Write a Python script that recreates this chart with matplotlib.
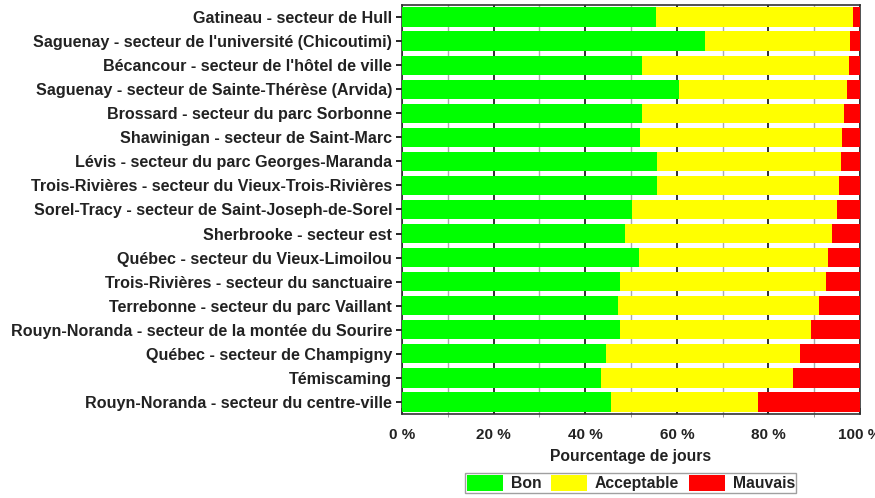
import numpy as np
import matplotlib.pyplot as plt
from matplotlib.ticker import MultipleLocator, FuncFormatter

plt.rcParams['font.family'] = ['Liberation Sans', 'DejaVu Sans']

# Stations (du haut vers le bas)
stations = [
    "Gatineau - secteur de Hull",
    "Saguenay - secteur de l'université (Chicoutimi)",
    "Bécancour - secteur de l'hôtel de ville",
    "Saguenay - secteur de Sainte-Thérèse (Arvida)",
    "Brossard - secteur du parc Sorbonne",
    "Shawinigan - secteur de Saint-Marc",
    "Lévis - secteur du parc Georges-Maranda",
    "Trois-Rivières - secteur du Vieux-Trois-Rivières",
    "Sorel-Tracy - secteur de Saint-Joseph-de-Sorel",
    "Sherbrooke - secteur est",
    "Québec - secteur du Vieux-Limoilou",
    "Trois-Rivières - secteur du sanctuaire",
    "Terrebonne - secteur du parc Vaillant",
    "Rouyn-Noranda - secteur de la montée du Sourire",
    "Québec - secteur de Champigny",
    "Témiscaming",
    "Rouyn-Noranda - secteur du centre-ville",
]

# Pourcentage de jours (%)
bon = [55.5, 66.2, 52.3, 60.5, 52.3, 52.0, 55.7, 55.7, 50.2,
       48.7, 51.8, 47.5, 47.2, 47.5, 44.5, 43.4, 45.6]
acceptable = [43.0, 31.7, 45.2, 36.7, 44.3, 44.0, 40.1, 39.7, 44.7,
              45.2, 41.1, 45.0, 43.8, 41.7, 42.5, 42.0, 32.2]
mauvais = [1.5, 2.1, 2.5, 2.8, 3.4, 4.0, 4.2, 4.6, 5.1,
           6.1, 7.1, 7.5, 9.0, 10.8, 13.0, 14.6, 22.2]

bon = np.array(bon)
acceptable = np.array(acceptable)
mauvais = np.array(mauvais)
y = np.arange(len(stations))

fig = plt.figure(figsize=(8.75, 4.98), dpi=100)
ax = fig.add_axes([0.4594, 0.1687, 0.5235, 0.8213])

h = 0.8
ax.barh(y, bon, height=h, color="#00FF00", label="Bon", zorder=3)
ax.barh(y, acceptable, left=bon, height=h, color="#FFFF00", label="Acceptable", zorder=3)
ax.barh(y, mauvais, left=bon + acceptable, height=h, color="#FF0000", label="Mauvais", zorder=3)

ax.set_xlim(0, 100)
ax.set_ylim(len(stations) - 0.5, -0.5)
ax.set_yticks(y)
ax.set_yticklabels(stations, fontsize=11.6, fontweight="bold", color="#222222")

ax.xaxis.set_major_locator(MultipleLocator(20))
ax.xaxis.set_minor_locator(MultipleLocator(10))
ax.xaxis.set_major_formatter(FuncFormatter(lambda v, p: f"{int(v)} %"))
for lab in ax.get_xticklabels():
    lab.set_fontweight("bold")
ax.tick_params(axis="x", labelsize=11, length=4, width=1.2, direction="in", colors="#222222", pad=10)
ax.tick_params(axis="x", which="minor", length=2.5, color="#888888")
ax.tick_params(axis="y", length=4, width=1.2, direction="out", pad=3)

ax.grid(True, axis="x", which="major", color="#222222", linewidth=1.3, zorder=0)
ax.grid(True, axis="x", which="minor", color="#aaaaaa", linewidth=1.0, zorder=0)
ax.set_axisbelow(True)

for s in ax.spines.values():
    s.set_color("#333333")
    s.set_linewidth(1.2)

ax.set_xlabel("Pourcentage de jours", fontsize=11.3, fontweight="bold", color="#222222", labelpad=5)

handles, labels = ax.get_legend_handles_labels()
leg = fig.legend(handles, labels, loc="center", bbox_to_anchor=(0.721, 0.030), ncol=3, fancybox=False,
                 frameon=True, edgecolor="#888888", fontsize=11.3, handlelength=2.3, handleheight=1.2,
                 columnspacing=0.6, handletextpad=0.5, borderpad=0.1, borderaxespad=0)
leg.get_frame().set_linewidth(1.0)
for t in leg.get_texts():
    t.set_fontweight("bold")
    t.set_color("#222222")

fig.savefig("out.png", dpi=100)
